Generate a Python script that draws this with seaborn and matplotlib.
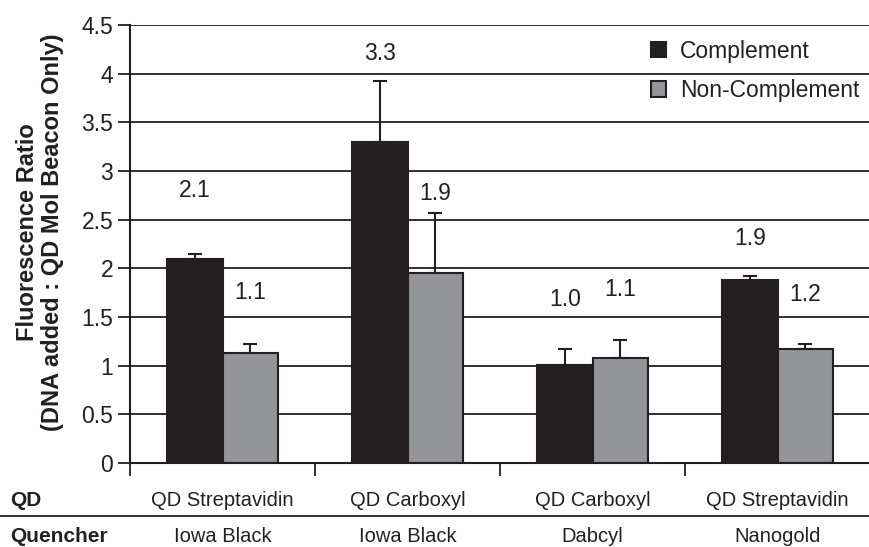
import matplotlib
matplotlib.use("Agg")
import matplotlib.pyplot as plt
import seaborn as sns
import pandas as pd
import numpy as np

# ---- data ----
qd_types = ["QD Streptavidin", "QD Carboxyl", "QD Carboxyl", "QD Streptavidin"]
quenchers = ["Iowa Black", "Iowa Black", "Dabcyl", "Nanogold"]
series = ["Complement", "Non-Complement"]
complement = [2.10, 3.30, 1.01, 1.88]
non_complement = [1.13, 1.95, 1.08, 1.17]
complement_err = [0.05, 0.62, 0.16, 0.04]
non_complement_err = [0.09, 0.62, 0.18, 0.05]
complement_labels = ["2.1", "3.3", "1.0", "1.9"]
non_complement_labels = ["1.1", "1.9", "1.1", "1.2"]
y_ticks = [0, 0.5, 1, 1.5, 2, 2.5, 3, 3.5, 4, 4.5]
y_tick_labels = ["0", "0.5", "1", "1.5", "2", "2.5", "3", "3.5", "4", "4.5"]

# label heights (layout, as placed in the original figure)
complement_label_y = [2.80, 4.21, 1.68, 2.31]
non_complement_label_y = [1.75, 2.77, 1.78, 1.73]

keys = [f"{i}" for i in range(len(qd_types))]
df = pd.DataFrame({
    "key": keys * 2,
    "series": [series[0]] * 4 + [series[1]] * 4,
    "value": complement + non_complement,
})

sns.set_style("white")
plt.rcParams["font.family"] = ["Liberation Sans", "DejaVu Sans"]
FS = 16.5
FS_TABLE = 14.5
INK = "#231f20"

fig = plt.figure(figsize=(8.69, 5.47), dpi=100)
ax = fig.add_axes([130 / 869, 1 - 463 / 547, 740 / 869, (463 - 25) / 547])

colors = {"Complement": INK, "Non-Complement": "#939598"}
sns.barplot(data=df, x="key", y="value", hue="series", order=keys,
            hue_order=series, palette=colors, width=0.6, gap=0,
            errorbar=None, edgecolor=INK, linewidth=1.5, ax=ax,
            saturation=1)

# error bars and value labels
for cont, errs, labs, ly in zip(ax.containers,
                                [complement_err, non_complement_err],
                                [complement_labels, non_complement_labels],
                                [complement_label_y, non_complement_label_y]):
    xs = [p.get_x() + p.get_width() / 2 for p in cont.patches]
    hs = [p.get_height() for p in cont.patches]
    ax.errorbar(xs, hs, yerr=[np.zeros(len(errs)), errs], fmt="none",
                ecolor=INK, elinewidth=1.5, capsize=5, capthick=1.5,
                zorder=1)
    for x, t, y in zip(xs, labs, ly):
        ax.text(x, y, t, ha="center", va="center", fontsize=FS, color=INK)

ax.set_ylim(0, 4.5)
ax.set_xlim(-0.5, 3.5)
ax.set_yticks(y_ticks)
ax.set_yticklabels(y_tick_labels, fontsize=FS, color=INK)
ax.yaxis.grid(True, color=INK, linewidth=1.3)
ax.set_axisbelow(True)
ax.tick_params(axis="y", direction="out", length=9, width=1.3,
               color=INK, pad=3, left=True)
ax.set_xticks(np.arange(-0.5, 3.6, 1.0))
ax.set_xticklabels([])
ax.tick_params(axis="x", direction="out", length=9, width=1.3,
               color=INK, bottom=True)
for s in ["top", "right"]:
    ax.spines[s].set_visible(False)
for s in ["left", "bottom"]:
    ax.spines[s].set_color(INK)
    ax.spines[s].set_linewidth(1.5)
ax.set_xlabel("")
ax.set_ylabel("Fluorescence Ratio\n(DNA added : QD Mol Beacon Only)",
              fontsize=17, fontweight="bold", color=INK, linespacing=1.1)
ax.yaxis.set_label_coords(-66 / 740, 1 - (232 - 25) / 438)

leg = ax.legend(loc="upper left", bbox_to_anchor=(0.684, 1.0), frameon=False,
                fontsize=FS, handlelength=0.65, handleheight=0.65,
                handletextpad=0.6, labelspacing=0.7, borderaxespad=0.25)
for t in leg.get_texts():
    t.set_color(INK)

# table below the axis
fig.text(10 / 869, 1 - 500 / 547, "QD", fontsize=FS_TABLE + 0.5,
         fontweight="bold", ha="left", va="center", color=INK)
fig.text(10 / 869, 1 - 536 / 547, "Quencher", fontsize=FS_TABLE + 0.5,
         fontweight="bold", ha="left", va="center", color=INK)
for i, (q, qu) in enumerate(zip(qd_types, quenchers)):
    ax.annotate(q, xy=(i, 0), xycoords=("data", "axes fraction"),
                xytext=(0, -37), textcoords="offset pixels",
                ha="center", va="center", fontsize=FS_TABLE, color=INK,
                annotation_clip=False)
    ax.annotate(qu, xy=(i, 0), xycoords=("data", "axes fraction"),
                xytext=(0, -73), textcoords="offset pixels",
                ha="center", va="center", fontsize=FS_TABLE, color=INK,
                annotation_clip=False)
fig.add_artist(plt.Line2D([0, 1], [1 - 516 / 547, 1 - 516 / 547],
                          transform=fig.transFigure, color=INK,
                          linewidth=1.3))

fig.savefig("out.png", dpi=100)
